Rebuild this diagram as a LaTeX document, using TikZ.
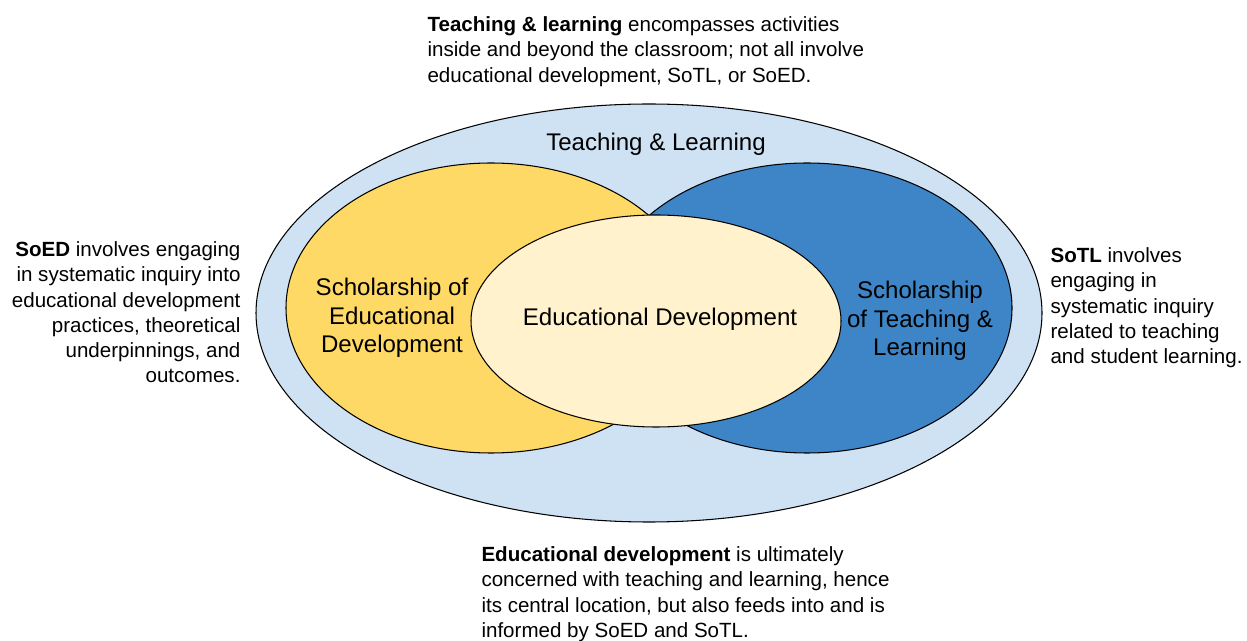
\documentclass[tikz,border=0pt]{standalone}
\usepackage{fontspec}
\setmainfont{Liberation Sans}
\definecolor{tlblue}{HTML}{CFE2F3}
\definecolor{soedyellow}{HTML}{FFD966}
\definecolor{sotlblue}{HTML}{3D85C6}
\definecolor{edcream}{HTML}{FFF2CC}
\begin{document}
\begin{tikzpicture}[x=.02cm, y=-.02cm, line width=.6pt,
  lbl/.style={inner sep=0, align=center, font=\fontsize{13.7}{16.2}\selectfont},
  note/.style={inner sep=0, font=\fontsize{11.7}{14.4}\selectfont}]
\useasboundingbox (0,0) rectangle (1247,641);
\filldraw[fill=tlblue](649,313) ellipse [x radius=393, y radius=209];
\filldraw[fill=soedyellow](491,308) ellipse [x radius=205, y radius=145];
\filldraw[fill=sotlblue](807,308) ellipse [x radius=205, y radius=145];
\filldraw[fill=edcream](656,321) ellipse [x radius=185, y radius=106];
\node[lbl, anchor=base] (tl) at (656,151) {Teaching \& Learning};
\node[lbl] (soed) at (392,318) {Scholarship of\\Educational\\Development};
\node[lbl, anchor=base] (ed) at (660,326) {Educational Development};
\node[lbl] (sotl) at (920,321) {Scholarship\\of Teaching \&\\Learning};
\node[note, anchor=north west, align=left] (tlnote) at (427,16) {\textbf{Teaching \& learning} encompasses activities\\inside and beyond the classroom; not all involve\\educational development, SoTL, or SoED.};
\node[note, anchor=north east, align=right] (soednote) at (241,241) {\textbf{SoED} involves engaging\\in systematic inquiry into\\educational development\\practices, theoretical\\underpinnings, and\\outcomes.};
\node[note, anchor=north west, align=left] (sotlnote) at (1050,247) {\textbf{SoTL} involves\\engaging in\\systematic inquiry\\related to teaching\\and student learning.};
\node[note, anchor=north west, align=left] (ednote) at (481,546) {\textbf{Educational development} is ultimately\\concerned with teaching and learning, hence\\its central location, but also feeds into and is\\informed by SoED and SoTL.};
\end{tikzpicture}
\end{document}
